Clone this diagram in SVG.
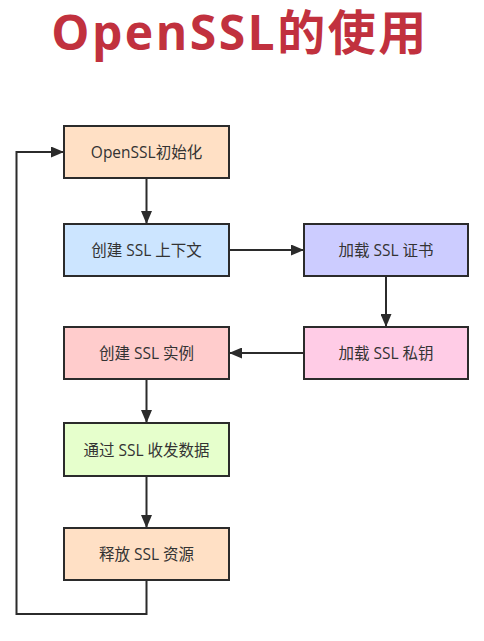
<svg xmlns="http://www.w3.org/2000/svg" width="484" height="641" viewBox="0 0 484 641">
<style>
.box{stroke:#2b2b2b;stroke-width:2}
.lbl{font-family:"Open Sans","Noto Sans CJK SC",sans-serif;font-size:15.5px;fill:#333;text-anchor:middle;dominant-baseline:central}
.ln{fill:none;stroke:#2b2b2b;stroke-width:2}
.title{font-family:"Open Sans","Noto Sans CJK SC",sans-serif;font-weight:bold;font-size:48px;fill:#C1313E;text-anchor:middle;letter-spacing:2.5px}
</style>
<defs>
<marker id="ah" viewBox="0 0 13 11" refX="13" refY="5.5" markerWidth="13" markerHeight="11" markerUnits="userSpaceOnUse" orient="auto">
<path d="M0,0 L13,5.5 L0,11 Z" fill="#2b2b2b"/>
</marker>
</defs>
<rect width="484" height="641" fill="#fff"/>
<text class="title" x="240" y="50">OpenSSL的使用</text>
<g id="connectors">
<line class="ln" x1="146.5" y1="178" x2="146.5" y2="224" marker-end="url(#ah)"/>
<line class="ln" x1="229" y1="250" x2="304" y2="250" marker-end="url(#ah)"/>
<line class="ln" x1="386" y1="276" x2="386" y2="327" marker-end="url(#ah)"/>
<line class="ln" x1="304" y1="353" x2="229" y2="353" marker-end="url(#ah)"/>
<line class="ln" x1="146.5" y1="379" x2="146.5" y2="423" marker-end="url(#ah)"/>
<line class="ln" x1="146.5" y1="476" x2="146.5" y2="528" marker-end="url(#ah)"/>
<polyline class="ln" points="146.5,580 146.5,614 16.5,614 16.5,152 64,152" marker-end="url(#ah)"/>
</g>
<g id="n1"><rect class="box" x="64" y="126" width="165" height="52" fill="#FFE0C5"/><text class="lbl" x="146.5" y="152">OpenSSL初始化</text></g>
<g id="n2"><rect class="box" x="64" y="224" width="165" height="52" fill="#CCE5FF"/><text class="lbl" x="146.5" y="250">创建 SSL 上下文</text></g>
<g id="n3"><rect class="box" x="304" y="224" width="164" height="52" fill="#CCCCFF"/><text class="lbl" x="386" y="250">加载 SSL 证书</text></g>
<g id="n4"><rect class="box" x="304" y="327" width="164" height="52" fill="#FFCCE6"/><text class="lbl" x="386" y="353">加载 SSL 私钥</text></g>
<g id="n5"><rect class="box" x="64" y="327" width="165" height="52" fill="#FFCCCC"/><text class="lbl" x="146.5" y="353">创建 SSL 实例</text></g>
<g id="n6"><rect class="box" x="64" y="423" width="165" height="53" fill="#E6FFCC"/><text class="lbl" x="146.5" y="449.5">通过 SSL 收发数据</text></g>
<g id="n7"><rect class="box" x="64" y="528" width="165" height="52" fill="#FFE0C5"/><text class="lbl" x="146.5" y="554">释放 SSL 资源</text></g>
</svg>
